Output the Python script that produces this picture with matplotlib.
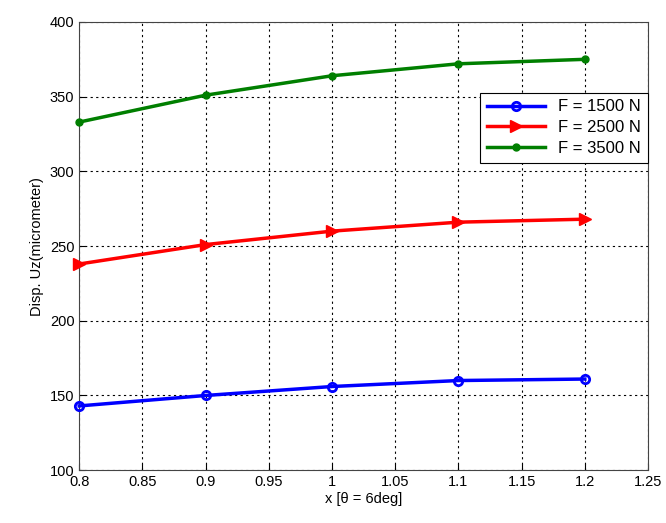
import numpy as np
import matplotlib.pyplot as plt

plt.rcParams['font.family'] = ['Liberation Sans', 'DejaVu Sans']
plt.rcParams['font.size'] = 10.5

x = [0.8, 0.9, 1.0, 1.1, 1.2]
f1500 = [143, 150, 156, 160, 161]
f2500 = [238, 251, 260, 266, 268]
f3500 = [333, 351, 364, 372, 375]

fig = plt.figure(figsize=(6.66, 5.23), dpi=100)
ax = fig.add_axes([0.119, 0.101, 0.854, 0.857])

ax.plot(x, f1500, color='#0000ff', lw=2.5, marker='o', ms=6, mfc='none', mew=2,
        label='F = 1500 N', clip_on=False, zorder=3)
ax.plot(x, f2500, color='#ff0000', lw=2.5, marker='>', ms=9, mfc='#ff0000',
        label='F = 2500 N', clip_on=False, zorder=3)
ax.plot(x, f3500, color='#007f00', lw=2.5, marker='o', ms=5,
        label='F = 3500 N', clip_on=False, zorder=3)

ax.set_xlim(0.8, 1.25)
ax.set_ylim(100, 400)
ax.set_xticks(np.arange(0.8, 1.251, 0.05))
ax.set_xticklabels(['0.8', '0.85', '0.9', '0.95', '1', '1.05', '1.1', '1.15', '1.2', '1.25'])
ax.set_yticks(range(100, 401, 50))
ax.grid(True, color='black', linestyle=(0, (2, 3)), lw=0.8)
ax.tick_params(direction='in', length=4)
for s in ax.spines.values():
    s.set_color('#444444')

ax.set_xlabel('x [θ = 6deg]', labelpad=2)
ax.set_ylabel('Disp. Uz(micrometer)', labelpad=4)

leg = ax.legend(loc='upper right', bbox_to_anchor=(1.0, 0.842), fancybox=False,
                edgecolor='black', framealpha=1, borderaxespad=0, handlelength=3.5,
                labelspacing=0.35, fontsize=12, borderpad=0.4)
leg.get_frame().set_linewidth(0.8)

fig.savefig('out.png', dpi=100)
